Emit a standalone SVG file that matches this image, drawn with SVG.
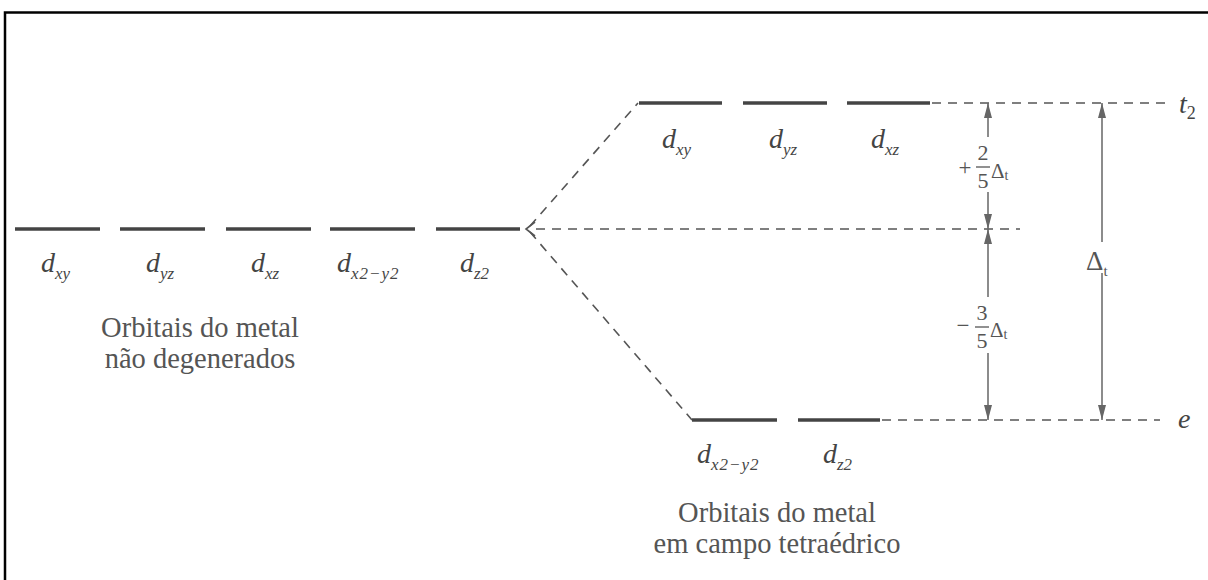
<svg xmlns="http://www.w3.org/2000/svg" width="1208" height="580" viewBox="0 0 1208 580">
<defs>
<style>
.lvl{stroke:#444;stroke-width:3.5;fill:none}
.dash{stroke:#555;stroke-width:1.6;stroke-dasharray:9 7;fill:none}
.arr{stroke:#666;stroke-width:1.5;fill:none}
.d{font-family:"Liberation Serif","Times New Roman",serif;font-style:italic;font-size:28px;fill:#444}
.sub{font-size:17px}
.cap{font-family:"Liberation Serif","Times New Roman",serif;font-size:28.5px;fill:#555;text-anchor:middle}
.m{font-family:"Liberation Serif","Times New Roman",serif;fill:#555}
</style>
<marker id="ah" viewBox="0 0 15 8" refX="15" refY="4" markerWidth="15" markerHeight="8" markerUnits="userSpaceOnUse" orient="auto-start-reverse">
<path d="M0,0 L15,4 L0,8 z" fill="#666"/>
</marker>
</defs>
<rect width="1208" height="580" fill="#fff"/>
<path d="M5,580 V12.5 H1208" fill="none" stroke="#000" stroke-width="2.5"/>

<g id="connectors">
<path class="dash" d="M530,226 L638,103"/>
<path class="dash" d="M530,232 L692,420"/>
<path class="dash" d="M536,229 H1020"/>
<path d="M535,222 L526,229 L535,236" fill="none" stroke="#555" stroke-width="1.6"/>
<path class="dash" d="M932,103 H1166"/>
<path class="dash" d="M882,420 H1160"/>
<line class="arr" x1="988" y1="137" x2="988" y2="103" marker-end="url(#ah)"/>
<line class="arr" x1="988" y1="192" x2="988" y2="229" marker-end="url(#ah)"/>
<line class="arr" x1="988" y1="297" x2="988" y2="229" marker-end="url(#ah)"/>
<line class="arr" x1="988" y1="353" x2="988" y2="420" marker-end="url(#ah)"/>
<line class="arr" x1="1102" y1="242" x2="1102" y2="103" marker-end="url(#ah)"/>
<line class="arr" x1="1102" y1="273" x2="1102" y2="420" marker-end="url(#ah)"/>
</g>

<g id="deg-dxy"><line class="lvl" x1="15" y1="229" x2="100" y2="229"/><text class="d" x="41" y="272">d<tspan class="sub" dy="7">xy</tspan></text></g>
<g id="deg-dyz"><line class="lvl" x1="120" y1="229" x2="205" y2="229"/><text class="d" x="146" y="272">d<tspan class="sub" dy="7">yz</tspan></text></g>
<g id="deg-dxz"><line class="lvl" x1="226" y1="229" x2="311" y2="229"/><text class="d" x="251" y="272">d<tspan class="sub" dy="7">xz</tspan></text></g>
<g id="deg-dx2y2"><line class="lvl" x1="330" y1="229" x2="415" y2="229"/><text class="d" x="337" y="272">d<tspan class="sub" dy="7" letter-spacing="1">x2−y2</tspan></text></g>
<g id="deg-dz2"><line class="lvl" x1="436" y1="229" x2="520" y2="229"/><text class="d" x="460" y="272">d<tspan class="sub" dy="7">z2</tspan></text></g>

<g id="t2-dxy"><line class="lvl" x1="639" y1="103" x2="722" y2="103"/><text class="d" x="662" y="148">d<tspan class="sub" dy="7">xy</tspan></text></g>
<g id="t2-dyz"><line class="lvl" x1="743" y1="103" x2="827" y2="103"/><text class="d" x="769" y="148">d<tspan class="sub" dy="7">yz</tspan></text></g>
<g id="t2-dxz"><line class="lvl" x1="847" y1="103" x2="930" y2="103"/><text class="d" x="871" y="148">d<tspan class="sub" dy="7">xz</tspan></text></g>

<g id="e-dx2y2"><line class="lvl" x1="692" y1="420" x2="777" y2="420"/><text class="d" x="697" y="463">d<tspan class="sub" dy="7" letter-spacing="1">x2−y2</tspan></text></g>
<g id="e-dz2"><line class="lvl" x1="798" y1="420" x2="880" y2="420"/><text class="d" x="823" y="463">d<tspan class="sub" dy="7">z2</tspan></text></g>

<g id="label-t2"><text class="d" x="1179" y="113" font-size="29">t<tspan font-style="normal" font-size="18" dy="6">2</tspan></text></g>
<g id="label-e"><text class="d" x="1178" y="428" font-size="30">e</text></g>

<g id="label-plus">
<text class="m" x="965" y="175" font-size="23" text-anchor="middle">+</text>
<text class="m" x="983" y="160" font-size="22" text-anchor="middle">2</text>
<line x1="976" y1="167" x2="990" y2="167" stroke="#555" stroke-width="1.3"/>
<text class="m" x="983" y="188" font-size="22" text-anchor="middle">5</text>
<text class="m" x="991" y="178" font-size="21">Δ<tspan font-size="14" dy="2">t</tspan></text>
</g>
<g id="label-minus">
<text class="m" x="963" y="333" font-size="23" text-anchor="middle">−</text>
<text class="m" x="982" y="320" font-size="22" text-anchor="middle">3</text>
<line x1="975" y1="327" x2="989" y2="327" stroke="#555" stroke-width="1.3"/>
<text class="m" x="982" y="348" font-size="22" text-anchor="middle">5</text>
<text class="m" x="990" y="337" font-size="21">Δ<tspan font-size="14" dy="2">t</tspan></text>
</g>
<g id="label-delta"><text class="m" x="1086" y="270" font-size="27">Δ<tspan font-size="15" dy="6">t</tspan></text></g>

<g id="caption-left">
<text class="cap" x="200" y="337">Orbitais do metal</text>
<text class="cap" x="200" y="368">não degenerados</text>
</g>
<g id="caption-right">
<text class="cap" x="777" y="522">Orbitais do metal</text>
<text class="cap" x="777" y="553">em campo tetraédrico</text>
</g>
</svg>
